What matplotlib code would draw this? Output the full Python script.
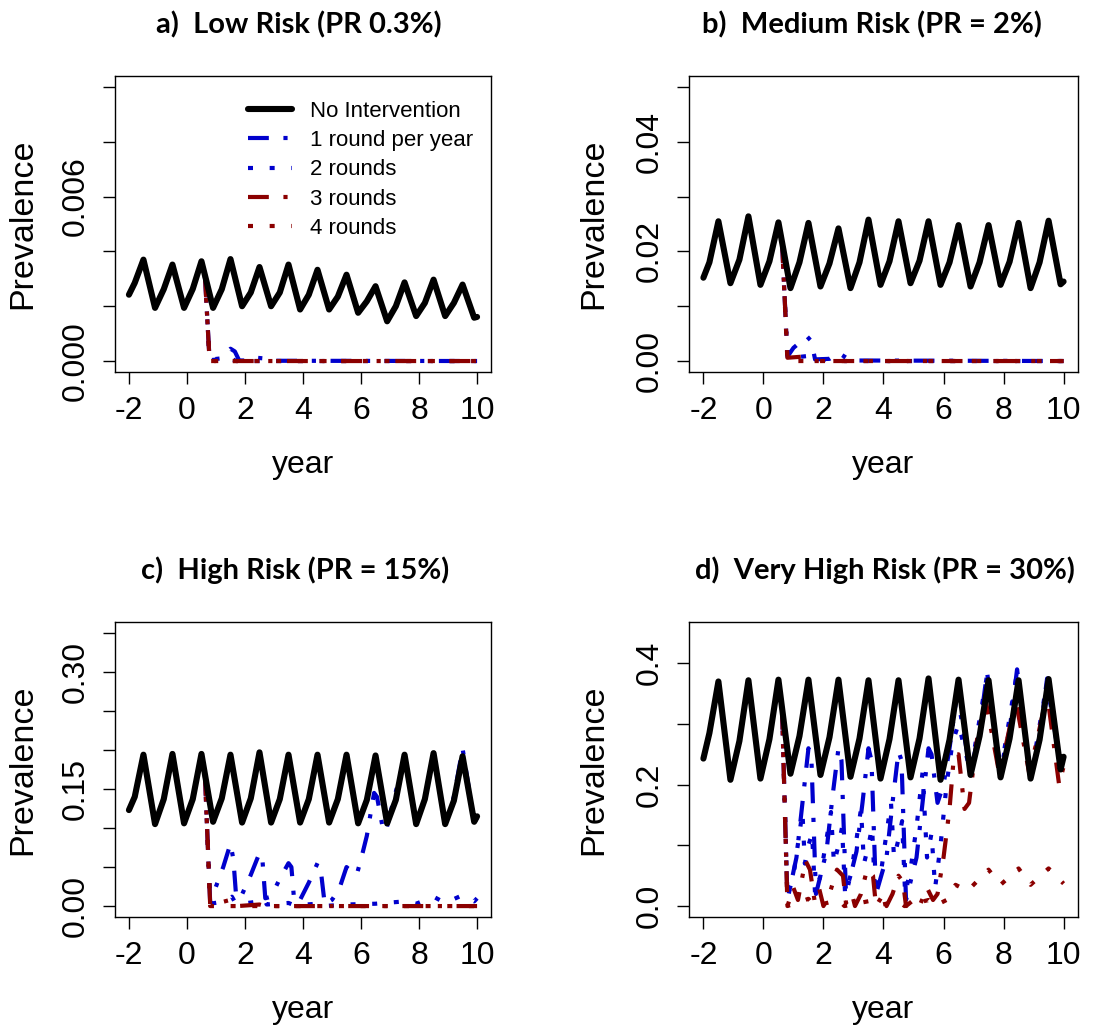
import matplotlib
matplotlib.use('Agg')
from matplotlib import pyplot as plt

plt.rcParams['font.family'] = ['Liberation Sans', 'DejaVu Sans']
plt.rcParams['axes.unicode_minus'] = False

# time grid shared by the "No Intervention" curves (trough / shoulder / peak per season)
t_base = [-2.0, -1.8, -1.5, -1.1, -0.8, -0.5, -0.1, 0.2, 0.5, 0.9, 1.2, 1.5, 1.9, 2.2, 2.5,
          2.9, 3.2, 3.5, 3.9, 4.2, 4.5, 4.9, 5.2, 5.5, 5.9, 6.2, 6.5, 6.9, 7.2, 7.5, 7.9, 8.2,
          8.5, 8.9, 9.2, 9.5, 9.9, 10.0]

a_none = [0.00242, 0.00285, 0.00370, 0.00194, 0.00262, 0.00352, 0.00194, 0.00263, 0.00364,
          0.00194, 0.00262, 0.00372, 0.00200, 0.00250, 0.00343, 0.00200, 0.00250, 0.00352,
          0.00188, 0.00242, 0.00333, 0.00188, 0.00235, 0.00315, 0.00176, 0.00218, 0.00273,
          0.00145, 0.00200, 0.00287, 0.00164, 0.00212, 0.00297, 0.00164, 0.00212, 0.00279,
          0.00158, 0.00161]
b_none = [0.0152, 0.0180, 0.0255, 0.0142, 0.0185, 0.0264, 0.0139, 0.0182, 0.0253, 0.0133,
          0.0180, 0.0252, 0.0136, 0.0178, 0.0242, 0.0133, 0.0180, 0.0258, 0.0139, 0.0182,
          0.0255, 0.0142, 0.0183, 0.0255, 0.0139, 0.0180, 0.0248, 0.0136, 0.0180, 0.0248,
          0.0139, 0.0181, 0.0252, 0.0133, 0.0180, 0.0256, 0.0140, 0.0145]
c_none = [0.123, 0.140, 0.194, 0.105, 0.137, 0.195, 0.106, 0.137, 0.195, 0.108, 0.138, 0.194,
          0.107, 0.138, 0.197, 0.107, 0.137, 0.194, 0.107, 0.137, 0.194, 0.107, 0.137, 0.194,
          0.106, 0.136, 0.193, 0.106, 0.136, 0.194, 0.105, 0.137, 0.196, 0.105, 0.135, 0.192,
          0.108, 0.115]
d_none = [0.243, 0.285, 0.370, 0.208, 0.272, 0.372, 0.210, 0.275, 0.373, 0.218, 0.280, 0.373,
          0.216, 0.278, 0.373, 0.213, 0.276, 0.372, 0.210, 0.275, 0.372, 0.212, 0.276, 0.375,
          0.208, 0.274, 0.373, 0.216, 0.280, 0.372, 0.212, 0.276, 0.372, 0.210, 0.274, 0.374,
          0.225, 0.246]

# panel a interventions
a_r1_t = [0.62, 0.78, 1.2, 1.35, 1.5, 1.65, 1.8, 2.2, 2.4, 2.6, 2.8, 10.0]
a_r1_y = [0.0031, 0.00005, 0.0001, 0.0003, 0.00045, 0.00035, 0.00002, 0.00002, 0.00012,
          0.0001, 0.00001, 0.0]
a_r2_t = [0.62, 0.78, 1.5, 1.7, 10.0]
a_r2_y = [0.0031, 0.00003, 0.0001, 0.0, 0.0]
a_r3_t = [0.62, 0.78, 10.0]
a_r3_y = [0.0031, 0.0, 0.0]
a_r4_t = [0.62, 0.78, 10.0]
a_r4_y = [0.0031, 0.0, 0.0]

# panel b interventions
b_r1_t = [0.62, 0.8, 1.0, 1.45, 1.6, 1.72, 2.2, 2.5, 2.9, 10.0]
b_r1_y = [0.0217, 0.0008, 0.0024, 0.0045, 0.0036, 0.0003, 0.0004, 0.0015, 0.0001, 0.0]
b_r2_t = [0.62, 0.8, 1.6, 1.75, 2.5, 2.7, 10.0]
b_r2_y = [0.0217, 0.0005, 0.001, 0.0002, 0.0004, 0.0, 0.0]
b_r3_t = [0.62, 0.8, 1.3, 1.7, 10.0]
b_r3_y = [0.0217, 0.0006, 0.0008, 0.0, 0.0]
b_r4_t = [0.62, 0.8, 10.0]
b_r4_y = [0.0217, 0.0, 0.0]

# panel c interventions
c_r1_t = [0.62, 0.8, 0.95, 1.25, 1.5, 1.6, 1.7, 1.9, 2.2, 2.5, 2.6, 2.7, 2.9, 3.2, 3.5, 3.6,
          3.7, 3.9, 4.2, 4.5, 4.6, 4.75, 5.0, 5.25, 5.5, 5.65, 5.85, 6.0, 6.2, 6.45, 6.55, 6.75,
          6.85, 7.05, 7.5, 7.9, 8.2, 8.5, 8.9, 9.2, 9.5, 9.9, 10.0]
c_r1_y = [0.168, 0.005, 0.02, 0.05, 0.08, 0.06, 0.01, 0.015, 0.04, 0.068, 0.06, 0.01, 0.012,
          0.035, 0.055, 0.05, 0.005, 0.008, 0.03, 0.055, 0.05, 0.002, 0.008, 0.022, 0.05, 0.045,
          0.04, 0.06, 0.09, 0.145, 0.14, 0.1, 0.095, 0.125, 0.19, 0.106, 0.137, 0.196, 0.106,
          0.14, 0.202, 0.108, 0.113]
c_r2_t = [0.62, 0.8, 1.3, 1.55, 1.7, 2.5, 2.65, 2.75, 3.5, 3.7, 4.5, 4.7, 5.5, 6.5, 7.5, 7.9,
          8.5, 8.9, 9.5, 9.9, 10.0]
c_r2_y = [0.168, 0.003, 0.006, 0.012, 0.002, 0.006, 0.01, 0.002, 0.004, 0.001, 0.003, 0.0,
          0.002, 0.003, 0.006, 0.003, 0.012, 0.004, 0.014, 0.006, 0.01]
c_r3_t = [0.62, 0.8, 1.1, 1.5, 1.75, 2.5, 2.7, 10.0]
c_r3_y = [0.168, 0.002, 0.004, 0.008, 0.0, 0.002, 0.0, 0.0]
c_r4_t = [0.62, 0.8, 10.0]
c_r4_y = [0.168, 0.0, 0.0]

# panel d interventions
d_r1_t = [0.62, 0.8, 1.1, 1.3, 1.5, 1.6, 1.75, 2.1, 2.3, 2.5, 2.6, 2.75, 3.1, 3.3, 3.5, 3.6,
          3.75, 4.1, 4.3, 4.5, 4.6, 4.75, 5.1, 5.3, 5.5, 5.6, 5.8, 6.0, 6.2, 6.45, 6.9, 7.2,
          7.45, 7.9, 8.2, 8.45, 8.9, 9.2, 9.45, 9.9, 10.0]
d_r1_y = [0.325, 0.01, 0.08, 0.17, 0.26, 0.24, 0.02, 0.09, 0.18, 0.26, 0.24, 0.02, 0.09, 0.17,
          0.26, 0.24, 0.02, 0.08, 0.17, 0.255, 0.24, 0.01, 0.08, 0.17, 0.26, 0.25, 0.17, 0.2,
          0.26, 0.35, 0.22, 0.29, 0.385, 0.225, 0.29, 0.39, 0.21, 0.28, 0.375, 0.225, 0.245]
d_r2_t = [0.62, 0.8, 1.0, 1.2, 1.3, 1.38, 1.5, 1.62, 1.72, 1.9, 2.1, 2.25, 2.35, 2.5, 2.62,
          2.72, 2.9, 3.1, 3.25, 3.35, 3.5, 3.62, 3.72, 3.9, 4.1, 4.25, 4.35, 4.5, 4.62, 4.72,
          4.9, 5.1, 5.3, 5.45, 5.6, 5.72, 5.9, 6.1, 6.3, 6.5, 6.9, 7.45, 7.9, 8.45, 8.9, 9.45,
          9.9, 10.0]
d_r2_y = [0.325, 0.015, 0.05, 0.12, 0.155, 0.07, 0.1, 0.12, 0.02, 0.05, 0.11, 0.155, 0.07,
          0.1, 0.13, 0.02, 0.05, 0.11, 0.16, 0.07, 0.1, 0.13, 0.02, 0.05, 0.12, 0.17, 0.08,
          0.11, 0.14, 0.02, 0.06, 0.13, 0.22, 0.08, 0.12, 0.03, 0.1, 0.2, 0.27, 0.3, 0.22,
          0.38, 0.22, 0.385, 0.21, 0.37, 0.22, 0.24]
d_r3_t = [0.62, 0.8, 1.0, 1.15, 1.4, 1.55, 1.7, 1.85, 2.0, 2.2, 2.45, 2.65, 2.75, 2.95, 3.05,
          3.25, 3.45, 3.65, 3.75, 4.0, 4.1, 4.3, 4.5, 4.65, 4.75, 5.0, 5.2, 5.45, 5.65, 5.8,
          6.0, 6.2, 6.35, 6.5, 6.7, 6.85, 7.1, 7.4, 7.85, 8.1, 8.4, 8.85, 9.1, 9.45, 9.85, 10.0]
d_r3_y = [0.325, 0.0, 0.03, 0.01, 0.075, 0.06, 0.01, 0.03, 0.0, 0.02, 0.06, 0.05, 0.005, 0.02,
          0.0, 0.02, 0.06, 0.05, 0.0, 0.02, 0.0, 0.02, 0.05, 0.04, 0.0, 0.01, 0.0, 0.03, 0.01,
          0.02, 0.08, 0.16, 0.25, 0.25, 0.16, 0.17, 0.27, 0.34, 0.22, 0.27, 0.34, 0.22, 0.27,
          0.35, 0.2, 0.23]
d_r4_t = [0.62, 0.8, 1.5, 1.7, 2.5, 2.7, 3.5, 3.7, 4.5, 4.7, 5.5, 5.7, 6.1, 6.4, 6.8, 7.0,
          7.5, 7.9, 8.5, 8.9, 9.5, 10.0]
d_r4_y = [0.325, 0.0, 0.012, 0.0, 0.01, 0.0, 0.008, 0.0, 0.008, 0.0, 0.01, 0.0, 0.01, 0.035,
          0.025, 0.035, 0.06, 0.035, 0.062, 0.035, 0.062, 0.037]

x_ticks = [-2, 0, 2, 4, 6, 8, 10]
a_yticks = [0.0, 0.002, 0.004, 0.006, 0.008, 0.010]
a_ylabels = ['0.000', '', '', '0.006', '', '']
b_yticks = [0.0, 0.01, 0.02, 0.03, 0.04, 0.05]
b_ylabels = ['0.00', '', '0.02', '', '0.04', '']
c_yticks = [0.0, 0.05, 0.10, 0.15, 0.20, 0.25, 0.30, 0.35]
c_ylabels = ['0.00', '', '', '0.15', '', '', '0.30', '']
d_yticks = [0.0, 0.1, 0.2, 0.3, 0.4]
d_ylabels = ['0.0', '', '0.2', '', '0.4']

series_names = ['No Intervention', '1 round per year', '2 rounds', '3 rounds', '4 rounds']
titles = ['a)  Low Risk (PR 0.3%)', 'b)  Medium Risk (PR = 2%)',
          'c)  High Risk (PR = 15%)', 'd)  Very High Risk (PR = 30%)']

BLUE = '#0000CD'
DRED = '#8B0000'
DASHDOT = (0, (5, 3.5, 1, 3.5))
DOTTED = (0, (1.2, 4))

panels = [
    dict(pos=[0.10417, 0.63778, 0.34058, 0.28822], none=a_none,
         rounds=[(a_r1_t, a_r1_y), (a_r2_t, a_r2_y), (a_r3_t, a_r3_y), (a_r4_t, a_r4_y)],
         ylim=0.010, yticks=a_yticks, ylabels=a_ylabels, title=titles[0], tpos=(0.271, 0.9757)),
    dict(pos=[0.62409, 0.63778, 0.35236, 0.28822], none=b_none,
         rounds=[(b_r1_t, b_r1_y), (b_r2_t, b_r2_y), (b_r3_t, b_r3_y), (b_r4_t, b_r4_y)],
         ylim=0.05, yticks=b_yticks, ylabels=b_ylabels, title=titles[1], tpos=(0.790, 0.9757)),
    dict(pos=[0.10417, 0.10711, 0.34058, 0.28724], none=c_none,
         rounds=[(c_r1_t, c_r1_y), (c_r2_t, c_r2_y), (c_r3_t, c_r3_y), (c_r4_t, c_r4_y)],
         ylim=0.35, yticks=c_yticks, ylabels=c_ylabels, title=titles[2], tpos=(0.267, 0.445)),
    dict(pos=[0.62409, 0.10711, 0.35236, 0.28724], none=d_none,
         rounds=[(d_r1_t, d_r1_y), (d_r2_t, d_r2_y), (d_r3_t, d_r3_y), (d_r4_t, d_r4_y)],
         ylim=0.45, yticks=d_yticks, ylabels=d_ylabels, title=titles[3], tpos=(0.8016, 0.445)),
]

styles = [(BLUE, DASHDOT), (BLUE, DOTTED), (DRED, DASHDOT), (DRED, DOTTED)]

fig = plt.figure(figsize=(11.04, 10.27), dpi=100)

for i, p in enumerate(panels):
    ax = fig.add_axes(p['pos'])
    handles = []
    h, = ax.plot(t_base, p['none'], color='black', lw=4.4, solid_joinstyle='round',
                 solid_capstyle='round', zorder=4, label=series_names[0])
    handles.append(h)
    for k, (tt, yy) in enumerate(p['rounds']):
        col, ls = styles[k]
        h, = ax.plot(tt, yy, color=col, lw=3, linestyle=ls, zorder=2 + k * 0.1,
                     label=series_names[k + 1])
        handles.append(h)

    ax.set_xlim(-2.48, 10.48)
    ax.set_ylim(-0.04 * p['ylim'], 1.04 * p['ylim'])
    ax.set_xticks(x_ticks)
    ax.set_xticklabels([str(v) for v in x_ticks])
    ax.set_yticks(p['yticks'])
    ax.set_yticklabels(p['ylabels'])
    ax.tick_params(axis='both', direction='out', length=8.6, width=1.0, labelsize=23, pad=9)
    ax.tick_params(axis='y', labelrotation=90)
    for lab in ax.get_yticklabels():
        lab.set_va('center')
    for s in ax.spines.values():
        s.set_linewidth(1.0)

    ax.set_xlabel('year', fontsize=23, va='center')
    ax.xaxis.set_label_coords(0.5, -0.315)
    ax.set_ylabel('Prevalence', fontsize=24.5, va='center')
    ax.yaxis.set_label_coords(-0.245, 0.5)

    fig.text(p['tpos'][0], p['tpos'][1], p['title'], fontsize=21, fontweight='bold',
             family=['Lato', 'DejaVu Sans'], ha='center', va='center')

    if i == 0:
        ax.legend(handles=handles, loc='upper left', bbox_to_anchor=(0.33, 0.946),
                  borderaxespad=0, frameon=False, fontsize=16, handlelength=2.0,
                  handletextpad=0.8, labelspacing=0.37)

fig.savefig('out.png', dpi=100)
